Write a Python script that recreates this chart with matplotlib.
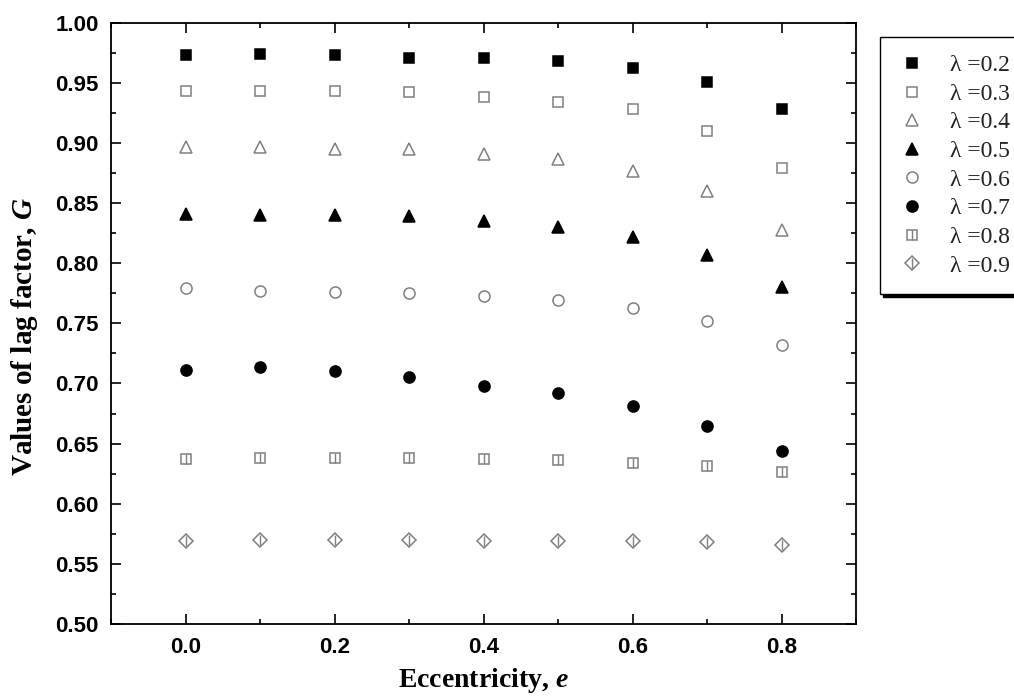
import matplotlib
matplotlib.use("Agg")
import matplotlib.pyplot as plt
from matplotlib.legend_handler import HandlerTuple
from matplotlib.ticker import MultipleLocator, FormatStrFormatter

# eccentricity values and lag factor G for each lambda
ecc = [0.0, 0.1, 0.2, 0.3, 0.4, 0.5, 0.6, 0.7, 0.8]
lambdas = ["0.2", "0.3", "0.4", "0.5", "0.6", "0.7", "0.8", "0.9"]
g_02 = [0.973, 0.974, 0.973, 0.971, 0.971, 0.968, 0.962, 0.951, 0.928]
g_03 = [0.943, 0.943, 0.943, 0.942, 0.938, 0.934, 0.928, 0.910, 0.879]
g_04 = [0.897, 0.897, 0.895, 0.895, 0.891, 0.887, 0.877, 0.860, 0.828]
g_05 = [0.841, 0.840, 0.840, 0.839, 0.835, 0.830, 0.822, 0.807, 0.780]
g_06 = [0.779, 0.777, 0.776, 0.775, 0.773, 0.769, 0.763, 0.752, 0.732]
g_07 = [0.711, 0.714, 0.710, 0.705, 0.698, 0.692, 0.681, 0.665, 0.644]
g_08 = [0.637, 0.638, 0.638, 0.638, 0.637, 0.636, 0.634, 0.631, 0.626]
g_09 = [0.569, 0.570, 0.570, 0.570, 0.569, 0.569, 0.569, 0.568, 0.566]
series = [g_02, g_03, g_04, g_05, g_06, g_07, g_08, g_09]

plt.rcParams['mathtext.fontset'] = 'custom'
plt.rcParams['mathtext.it'] = 'Liberation Serif:italic:bold'
plt.rcParams['mathtext.rm'] = 'Liberation Serif:bold'

gris = '#808080'
# (marker, size, face, edge, overlay marker)
estilos = [
    ('s', 7, 'black', 'black', None),
    ('s', 7, 'white', gris, None),
    ('^', 9, 'white', gris, None),
    ('^', 9, 'black', 'black', None),
    ('o', 8, 'white', gris, None),
    ('o', 8, 'black', 'black', None),
    ('s', 6.5, 'white', gris, '|'),
    ('D', 7, 'white', gris, '|'),
]

fig = plt.figure(figsize=(10.14, 6.98), dpi=100)
ax = fig.add_axes([0.1095, 0.106, 0.735, 0.8615])

handles = []
for vals, (m, ms, fc, ec, extra) in zip(series, estilos):
    h, = ax.plot(ecc, vals, linestyle='none', marker=m, markersize=ms,
                 markerfacecolor=fc, markeredgecolor=ec, markeredgewidth=1.1)
    if extra:
        h2, = ax.plot(ecc, vals, linestyle='none', marker=extra, markersize=ms,
                      markeredgecolor=ec, markeredgewidth=1.0)
        handles.append((h, h2))
    else:
        handles.append(h)

ax.set_xlim(-0.1, 0.9)
ax.set_ylim(0.50, 1.00)
ax.xaxis.set_major_locator(MultipleLocator(0.2))
ax.xaxis.set_minor_locator(MultipleLocator(0.1))
ax.yaxis.set_major_locator(MultipleLocator(0.05))
ax.yaxis.set_minor_locator(MultipleLocator(0.025))
ax.xaxis.set_major_formatter(FormatStrFormatter('%.1f'))
ax.yaxis.set_major_formatter(FormatStrFormatter('%.2f'))
ax.tick_params(which='both', direction='in', top=True, right=True, width=1.2)
ax.tick_params(which='major', length=7, labelsize=16, pad=9)
ax.tick_params(which='minor', length=3.5)
for lab in ax.get_xticklabels() + ax.get_yticklabels():
    lab.set_fontweight('bold')
    lab.set_fontfamily('Liberation Sans')
for sp in ax.spines.values():
    sp.set_linewidth(1.3)

ax.set_xlabel(r"Eccentricity, $\mathit{e}$", fontsize=20, fontweight='bold',
              family='Liberation Serif', labelpad=6)
ax.set_ylabel(r"Values of lag factor, $\mathit{G}$", fontsize=21, fontweight='bold',
              family='Liberation Serif')
ax.yaxis.set_label_coords(-0.095, 0.478)

leg = fig.legend(handles, ["λ =" + l for l in lambdas],
                 handler_map={tuple: HandlerTuple(ndivide=1)},
                 loc='upper left', bbox_to_anchor=(0.868, 0.1, 0.2, 0.847),
                 mode='expand', frameon=True, fancybox=False,
                 shadow={'color': 'black', 'alpha': 1},
                 prop={'family': 'Liberation Serif', 'size': 17},
                 labelspacing=0.3, handlelength=1.2, handletextpad=1.0,
                 borderpad=0.75, borderaxespad=0)
leg.get_frame().set_edgecolor('black')
leg.get_frame().set_linewidth(1.0)
for t in leg.get_texts():
    t.set_color('#222222')

plt.savefig("out.png", dpi=100)
